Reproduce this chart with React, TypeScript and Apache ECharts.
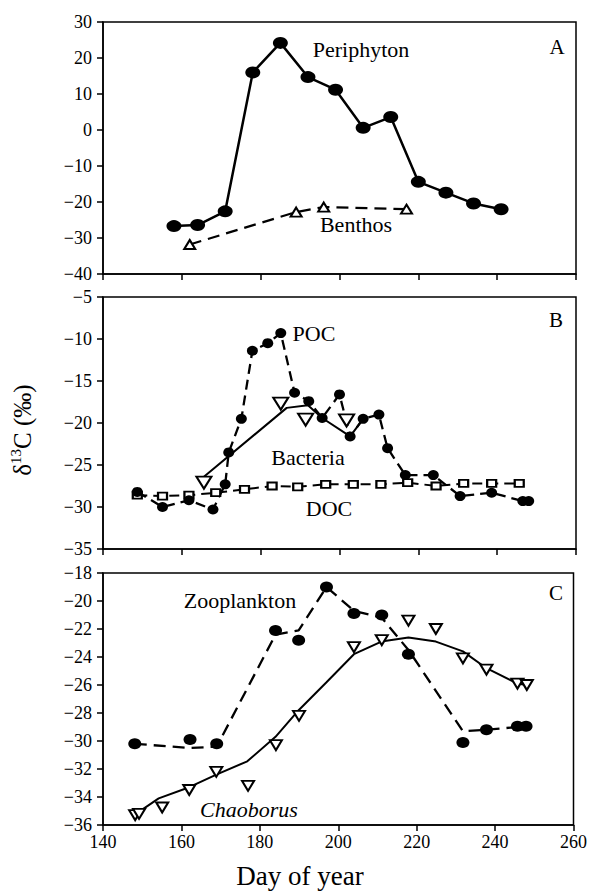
import React, { useEffect, useRef } from "react";
import * as echarts from "echarts";

// ---- Panel A ----
const periphytonDays = [158, 164, 171, 178, 185, 192, 199, 206, 213, 220, 227, 234, 241];
const periphytonD13C = [-26.7, -26.4, -22.6, 16, 24.2, 14.7, 11.2, 0.6, 3.6, -14.4, -17.4, -20.4, -22];
const benthosDays = [162, 189, 196, 217];
const benthosD13C = [-31.8, -22.8, -21.4, -22];

// ---- Panel B ----
const pocDays = [148.7, 155.1, 161.8, 167.9, 171.0, 171.9, 175.1, 177.9, 181.8, 185.1, 188.6, 192.2, 195.6, 200, 202.7, 206, 210, 212.2, 216.7, 223.8, 230.6, 238.6, 246.5, 248];
const pocD13C = [-28.2, -30.0, -29.2, -30.3, -27.3, -23.5, -19.5, -11.4, -10.5, -9.3, -16.4, -17.4, -19.4, -16.6, -21.6, -19.5, -19.0, -23.0, -26.2, -26.2, -28.7, -28.3, -29.3, -29.3];
const bacteriaDays = [165.6, 185.1, 191.4, 201.8];
const bacteriaD13C = [-27.1, -17.7, -19.6, -19.7];
const bacteriaTrendDays = [165.6, 186.6, 192, 195.6, 202.7, 206];
const bacteriaTrend = [-26.4, -18.2, -17.9, -19.4, -21.6, -19.5];
const docDays = [148.7, 155.1, 161.8, 168.6, 175.9, 182.9, 189.4, 196.5, 203.5, 210.5, 217.3, 224.5, 231.5, 238.6, 245.6];
const docD13C = [-28.6, -28.7, -28.6, -28.3, -27.9, -27.5, -27.6, -27.3, -27.3, -27.3, -27.1, -27.5, -27.2, -27.2, -27.2];

// ---- Panel C ----
const zooDays = [148.1, 162.2, 169, 184, 189.9, 197, 204, 211.1, 217.9, 231.8, 237.8, 245.7, 247.9];
const zooD13C = [-30.2, -29.9, -30.2, -22.1, -22.8, -19.0, -20.9, -21.0, -23.8, -30.1, -29.2, -28.95, -28.95];
const zooTrendDays = [148.1, 162.2, 169, 184, 189.9, 197, 204, 211.1, 217.9, 231.8, 237.8, 245.7, 247.9];
const zooTrend = [-30.2, -30.5, -30.4, -22.4, -22.1, -19.0, -20.7, -21.2, -23.5, -29.3, -29.2, -29.0, -29.0];
const chaoDays = [148.2, 149.2, 155.1, 162, 168.9, 177, 184.1, 190, 204, 211.1, 217.9, 224.9, 231.8, 237.8, 245.7, 248.1];
const chaoD13C = [-35.3, -35.2, -34.75, -33.5, -32.2, -33.2, -30.3, -28.2, -23.3, -22.8, -21.4, -22.0, -24.1, -24.9, -25.9, -26.0];
const chaoTrendDays = [148.4, 154.2, 162, 168.9, 176.8, 184, 189.9, 197, 204, 211, 217.9, 224.9, 231.8, 237.8, 245.7, 248];
const chaoTrend = [-35.2, -34.1, -33.3, -32.4, -31.45, -29.7, -27.8, -25.8, -23.8, -22.9, -22.6, -22.9, -23.6, -24.8, -25.9, -26.0];

// ---- Axes ----
const xTicks = { min: 140, max: 260, interval: 20 };
const yA = { min: -40, max: 30, interval: 10 };
const yB = { min: -35, max: -5, interval: 5 };
const yC = { min: -36, max: -18, interval: 2 };

const FONT = "Liberation Serif";
const zip = (xs: number[], ys: number[]) => xs.map((x, i) => [x, ys[i]]);
const minus = (v: number) => String(v).replace("-", "\u2212");

export default function App() {
  const ref = useRef<HTMLDivElement>(null);
  useEffect(() => {
    if (!ref.current) return;
    const chart = echarts.init(ref.current, undefined, { renderer: "svg" });
    const gridBase = { left: 103, width: 473, height: 252, show: true, borderColor: "#000", borderWidth: 1.5, backgroundColor: "transparent" };
    const grids = [
      { ...gridBase, top: 22 },
      { ...gridBase, top: 297 },
      { ...gridBase, top: 573 },
    ];
    const xAxes = [0, 1, 2].map((i) => ({
      type: "value",
      gridIndex: i,
      ...xTicks,
      axisLine: { show: true, onZero: false, lineStyle: { color: "#000", width: 1.5 } },
      axisTick: { show: true, length: 6, lineStyle: { color: "#000", width: 1.5 } },
      axisLabel: { show: i === 2, color: "#000", fontFamily: FONT, fontSize: 18, margin: 8 },
      splitLine: { show: false },
    }));
    const yAxes = [yA, yB, yC].map((r, i) => ({
      type: "value",
      gridIndex: i,
      ...r,
      axisLine: { show: true, onZero: false, lineStyle: { color: "#000", width: 1.5 } },
      axisTick: { show: true, length: 6, lineStyle: { color: "#000", width: 1.5 } },
      axisLabel: { color: "#000", fontFamily: FONT, fontSize: 18, margin: 11, formatter: (v: number) => minus(v) },
      splitLine: { show: false },
    }));
    const lineS = (name: string, data: number[][], g: number, opts: any) => ({
      name,
      type: "line",
      xAxisIndex: g,
      yAxisIndex: g,
      data,
      z: 3,
      ...opts,
    });
    const filled = { color: "#000", borderColor: "#000", borderWidth: 0, opacity: 1 };
    const open = { color: "#fff", borderColor: "#000", borderWidth: 2, opacity: 1 };
    const series = [
      // A
      lineS("Periphyton", zip(periphytonDays, periphytonD13C), 0, {
        symbol: "circle", symbolSize: [15, 12], itemStyle: filled, lineStyle: { color: "#000", width: 2.5 },
      }),
      lineS("Benthos", zip(benthosDays, benthosD13C), 0, {
        symbol: "triangle", symbolSize: [11, 9], itemStyle: open, lineStyle: { color: "#000", width: 2.2, type: [12, 7] },
      }),
      // B
      lineS("DOC", zip(docDays, docD13C), 1, {
        symbol: "rect", symbolSize: [9, 7], itemStyle: open, lineStyle: { color: "#000", width: 2, type: [10, 6] },
      }),
      lineS("BacteriaTrend", zip(bacteriaTrendDays, bacteriaTrend), 1, {
        symbol: "none", lineStyle: { color: "#000", width: 2 },
      }),
      lineS("POC", zip(pocDays, pocD13C), 1, {
        symbol: "circle", symbolSize: [11, 10], itemStyle: filled, lineStyle: { color: "#000", width: 2.3, type: [10, 6] },
      }),
      {
        name: "Bacteria", type: "scatter", xAxisIndex: 1, yAxisIndex: 1, z: 4,
        data: zip(bacteriaDays, bacteriaD13C), symbol: "triangle", symbolRotate: 180, symbolSize: [15, 12],
        itemStyle: open,
      },
      // C
      lineS("ZooTrend", zip(zooTrendDays, zooTrend), 2, {
        symbol: "none", lineStyle: { color: "#000", width: 2.3, type: [12, 7] },
      }),
      lineS("ChaoTrend", zip(chaoTrendDays, chaoTrend), 2, {
        symbol: "none", lineStyle: { color: "#000", width: 2 },
      }),
      {
        name: "Zooplankton", type: "scatter", xAxisIndex: 2, yAxisIndex: 2, z: 4,
        data: zip(zooDays, zooD13C), symbol: "circle", symbolSize: [13, 11], itemStyle: filled,
      },
      {
        name: "Chaoborus", type: "scatter", xAxisIndex: 2, yAxisIndex: 2, z: 4,
        data: zip(chaoDays, chaoD13C), symbol: "triangle", symbolRotate: 180, symbolSize: [12, 10],
        itemStyle: open,
      },
    ];
    const label = (text: string, x: number, y: number, size = 22, italic = false) => ({
      type: "text",
      x,
      y,
      z: 10,
      style: { text, fill: "#000", fontFamily: FONT, fontSize: size, fontStyle: italic ? "italic" : "normal", align: "center", verticalAlign: "middle" },
    });
    chart.setOption({
      animation: false,
      backgroundColor: "#fff",
      grid: grids,
      xAxis: xAxes,
      yAxis: yAxes,
      series,
      graphic: [
        label("Periphyton", 361, 49),
        label("Benthos", 356, 224),
        label("A", 557, 47, 21),
        label("POC", 314, 333),
        label("Bacteria", 308, 457),
        label("DOC", 329, 508),
        label("B", 556, 320, 21),
        label("Zooplankton", 240, 600),
        label("Chaoborus", 249, 809, 22, true),
        label("C", 556, 593, 21),
        label("Day of year", 300, 876, 27),
        {
          type: "text",
          x: 22,
          y: 430,
          rotation: Math.PI / 2,
          z: 10,
          style: {
            text: "{a|\u03b4}{s|13}{a|C (\u2030)}",
            align: "center",
            verticalAlign: "middle",
            fill: "#000",
            rich: {
              a: { fontFamily: FONT, fontSize: 25, fill: "#000", lineHeight: 28 },
              s: { fontFamily: FONT, fontSize: 15, fill: "#000", verticalAlign: "top", lineHeight: 28, padding: [0, 0, 8, 0] },
            },
          },
        },
      ],
    });
    return () => chart.dispose();
  }, []);
  return <div ref={ref} style={{ position: "fixed", left: 0, top: 0, width: 590, height: 892, background: "#fff" }} />;
}
